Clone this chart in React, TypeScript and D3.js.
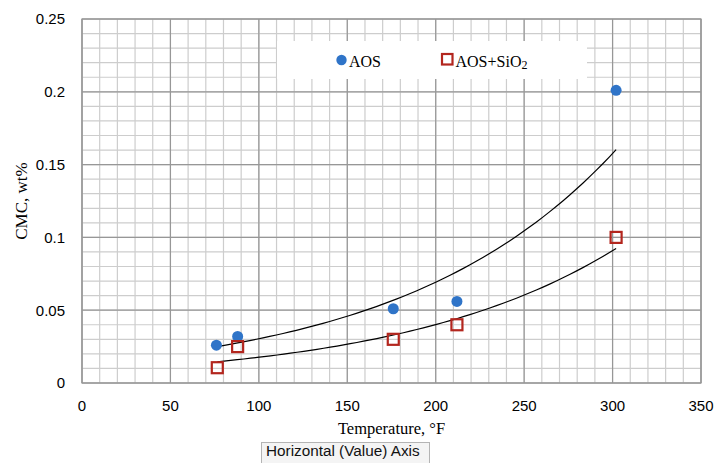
import React from 'react';
import * as d3 from 'd3';

// Temperature (°F) and CMC (wt%)
const tempAOS = [76, 88, 176, 212, 302];
const cmcAOS = [0.026, 0.032, 0.051, 0.056, 0.201];
const tempSiO2 = [76.5, 88, 176, 212, 302];
const cmcSiO2 = [0.0105, 0.025, 0.03, 0.04, 0.1];

const xTicks = [0, 50, 100, 150, 200, 250, 300, 350];
const yTicks = [0, 0.05, 0.1, 0.15, 0.2, 0.25];

const width = 716;
const height = 463;
const margin = { top: 19, right: 15, bottom: 80, left: 82 };

// least squares fit of ln(y) = ln(a) + b x, like an Excel exponential trendline
function expFit(xs: number[], ys: number[]) {
  const ly = ys.map(Math.log);
  const mx = d3.mean(xs) as number;
  const my = d3.mean(ly) as number;
  let sxy = 0, sxx = 0;
  xs.forEach((x, i) => {
    sxy += (x - mx) * (ly[i] - my);
    sxx += (x - mx) * (x - mx);
  });
  const b = sxy / sxx;
  const a = Math.exp(my - b * mx);
  return (x: number) => a * Math.exp(b * x);
}

export default function App() {
  const x = d3.scaleLinear().domain([0, 350]).range([margin.left, width - margin.right]);
  const y = d3.scaleLinear().domain([0, 0.25]).range([height - margin.bottom, margin.top]);

  const minorX = d3.range(0, 351, 10);
  const minorY = d3.range(0, 0.2501, 0.01);

  const line = d3.line<[number, number]>().x(d => x(d[0])).y(d => y(d[1]));
  const trend = (xs: number[], ys: number[]) => {
    const f = expFit(xs, ys);
    const [lo, hi] = d3.extent(xs) as [number, number];
    const pts: [number, number][] = d3.range(0, 61).map(i => {
      const t = lo + ((hi - lo) * i) / 60;
      return [t, f(t)];
    });
    return line(pts) || '';
  };

  const x0 = x(0), x1 = x(350), y0 = y(0), y1 = y(0.25);
  const blue = '#2f74c8';
  const red = '#b3261e';

  return (
    <svg width={width} height={height} style={{ position: 'fixed', left: 0, top: 0, background: '#fff' }}>
      <rect x={0} y={0} width={width} height={height} fill="#fff" />
      {/* minor grid */}
      {minorX.map(v => (
        <line key={'mx' + v} x1={x(v)} x2={x(v)} y1={y1} y2={y0} stroke="#cdcdcd" strokeWidth={1.2} />
      ))}
      {minorY.map(v => (
        <line key={'my' + v} x1={x0} x2={x1} y1={y(v)} y2={y(v)} stroke="#cdcdcd" strokeWidth={1.2} />
      ))}
      {/* major grid */}
      {xTicks.map(v => (
        <line key={'Mx' + v} x1={x(v)} x2={x(v)} y1={y1} y2={y0} stroke="#979797" strokeWidth={1.2} />
      ))}
      {yTicks.map(v => (
        <line key={'My' + v} x1={x0} x2={x1} y1={y(v)} y2={y(v)} stroke="#979797" strokeWidth={1.2} />
      ))}
      <rect x={x0} y={y1} width={x1 - x0} height={y0 - y1} fill="none" stroke="#979797" strokeWidth={1.2} />

      {/* legend */}
      <rect x={277} y={41} width={310} height={38} fill="#fff" />
      <circle cx={341.5} cy={60} r={5.2} fill={blue} />
      <text x={349} y={66.5} fontFamily="Liberation Serif, Times New Roman, serif" fontSize={16} fill="#000">AOS</text>
      <rect x={442} y={54} width={10.5} height={10.5} fill="none" stroke={red} strokeWidth={2.2} />
      <text x={455.5} y={66.5} fontFamily="Liberation Serif, Times New Roman, serif" fontSize={16} fill="#000">
        AOS+SiO<tspan fontSize={12} dy={2}>2</tspan>
      </text>

      {/* trendlines */}
      <path d={trend(tempAOS, cmcAOS)} fill="none" stroke="#000" strokeWidth={1.2} />
      <path d={trend(tempSiO2, cmcSiO2)} fill="none" stroke="#000" strokeWidth={1.2} />

      {/* points */}
      {tempAOS.map((t, i) => (
        <circle key={'a' + i} cx={x(t)} cy={y(cmcAOS[i])} r={5.5} fill={blue} />
      ))}
      {tempSiO2.map((t, i) => (
        <rect key={'s' + i} x={x(t) - 5.5} y={y(cmcSiO2[i]) - 5.5} width={11} height={11} fill="none" stroke={red} strokeWidth={2.2} />
      ))}

      {/* tick labels */}
      {yTicks.map(v => (
        <text key={'yt' + v} x={65} y={y(v)} dy="0.36em" textAnchor="end" fontFamily="Liberation Sans, Arial, sans-serif" fontSize={15} fill="#000">
          {String(v)}
        </text>
      ))}
      {xTicks.map(v => (
        <text key={'xt' + v} x={x(v)} y={411} textAnchor="middle" fontFamily="Liberation Sans, Arial, sans-serif" fontSize={15} fill="#000">
          {String(v)}
        </text>
      ))}

      {/* axis titles */}
      <text transform={`translate(27,${(y0 + y1) / 2}) rotate(-90)`} textAnchor="middle" fontFamily="Liberation Serif, Times New Roman, serif" fontSize={17} fill="#000">
        CMC, wt%
      </text>
      <text x={(x0 + x1) / 2} y={434} textAnchor="middle" fontFamily="Liberation Serif, Times New Roman, serif" fontSize={16.5} fill="#000">
        Temperature, °F
      </text>

      {/* hover tooltip */}
      <rect x={261.5} y={442.5} width={168} height={26} fill="#f4f4f4" stroke="#b4b4b4" strokeWidth={1} />
      <text x={266} y={456} fontFamily="Liberation Sans, Arial, sans-serif" fontSize={15.3} fill="#111">
        Horizontal (Value) Axis
      </text>
    </svg>
  );
}
